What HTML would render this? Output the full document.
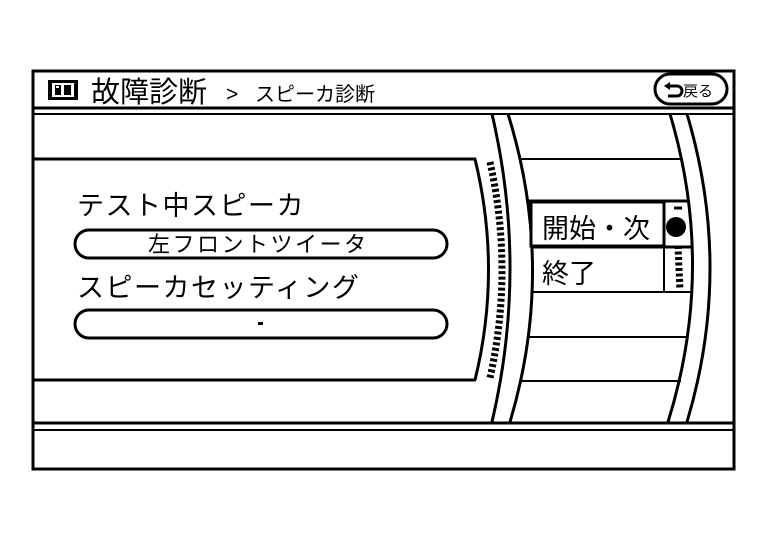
<!DOCTYPE html>
<html><head><meta charset="utf-8"><style>
html,body{margin:0;padding:0;background:#fff;}
svg{display:block}
text{font-family:"Liberation Sans","Noto Sans CJK JP",sans-serif;fill:#000}
</style></head><body>
<svg width="768" height="544" viewBox="0 0 768 544" xmlns="http://www.w3.org/2000/svg">
<rect x="0" y="0" width="768" height="544" fill="#fff"/>
<rect x="33" y="71" width="701" height="398" fill="none" stroke="#000" stroke-width="3"/>
<line x1="33" y1="108" x2="734" y2="108" stroke="#000" stroke-width="3"/>
<line x1="33" y1="114" x2="734" y2="114" stroke="#000" stroke-width="2"/>
<rect x="48" y="80" width="30" height="20" fill="#000"/>
<rect x="52" y="83" width="22" height="14" fill="#fff"/>
<rect x="55" y="85" width="6" height="10" fill="#000"/>
<rect x="64" y="85" width="7" height="10" fill="#000"/>
<rect x="56" y="86" width="3" height="2" fill="#fff"/>
<text x="91" y="102" font-size="29">故障診断</text>
<text x="226" y="101" font-size="21">&gt;</text>
<text x="255" y="101" font-size="20">スピーカ診断</text>
<rect x="655" y="74" width="72" height="30" rx="15" fill="#fff" stroke="#000" stroke-width="3"/>
<path d="M669,86 h8 a5,5 0 0 1 0,10 h-9" fill="none" stroke="#000" stroke-width="3"/>
<path d="M664,86 l6,-4 v8 z" fill="#000"/>
<text x="683" y="96" font-size="15">戻る</text>
<line x1="33" y1="159" x2="476" y2="159" stroke="#000" stroke-width="3"/>
<line x1="33" y1="380" x2="476" y2="380" stroke="#000" stroke-width="3"/>
<path d="M475,159 Q502,270 475,380" fill="none" stroke="#000" stroke-width="3"/>
<path d="M490,162 Q514,270 490,378" fill="none" stroke="#000" stroke-width="7" stroke-dasharray="3,2.5"/>
<path d="M492,114 Q528,268 492,422" fill="none" stroke="#000" stroke-width="3"/>
<path d="M508,114 Q556,268 510,422" fill="none" stroke="#000" stroke-width="3"/>
<path d="M670,114 Q716,268 668,422" fill="none" stroke="#000" stroke-width="3"/>
<path d="M687,114 Q733,268 687,422" fill="none" stroke="#000" stroke-width="3"/>
<line x1="520" y1="159" x2="681" y2="159" stroke="#000" stroke-width="2"/>
<line x1="527" y1="201" x2="689" y2="201" stroke="#000" stroke-width="3"/>
<line x1="531" y1="247" x2="692" y2="247" stroke="#000" stroke-width="3"/>
<line x1="531" y1="292" x2="692" y2="292" stroke="#000" stroke-width="2"/>
<line x1="527" y1="337" x2="688" y2="337" stroke="#000" stroke-width="2"/>
<line x1="520" y1="381" x2="681" y2="381" stroke="#000" stroke-width="2"/>
<rect x="531" y="202" width="133" height="44" fill="#fff" stroke="#000" stroke-width="3"/>
<line x1="664" y1="201" x2="664" y2="292" stroke="#000" stroke-width="2"/>
<text x="542" y="238" font-size="27">開始・次</text>
<text x="542" y="283" font-size="27">終了</text>
<path d="M674,208 h8" stroke="#000" stroke-width="3"/>
<circle cx="676" cy="227" r="10" fill="#000"/>
<path d="M678,246 L680,290" fill="none" stroke="#000" stroke-width="7" stroke-dasharray="3,2.5"/>
<line x1="33" y1="423" x2="734" y2="423" stroke="#000" stroke-width="3"/>
<line x1="33" y1="430" x2="734" y2="430" stroke="#000" stroke-width="2"/>
<text x="77" y="215" font-size="27" letter-spacing="1.5">テスト中スピーカ</text>
<rect x="75" y="230" width="372" height="28" rx="14" fill="#fff" stroke="#000" stroke-width="3"/>
<text x="148" y="252" font-size="22" letter-spacing="2.5">左フロントツイータ</text>
<text x="77" y="297" font-size="27" letter-spacing="1.5">スピーカセッティング</text>
<rect x="75" y="310" width="372" height="28" rx="14" fill="#fff" stroke="#000" stroke-width="3"/>
<rect x="258" y="322" width="5" height="3" fill="#000"/>
</svg>
</body></html>
